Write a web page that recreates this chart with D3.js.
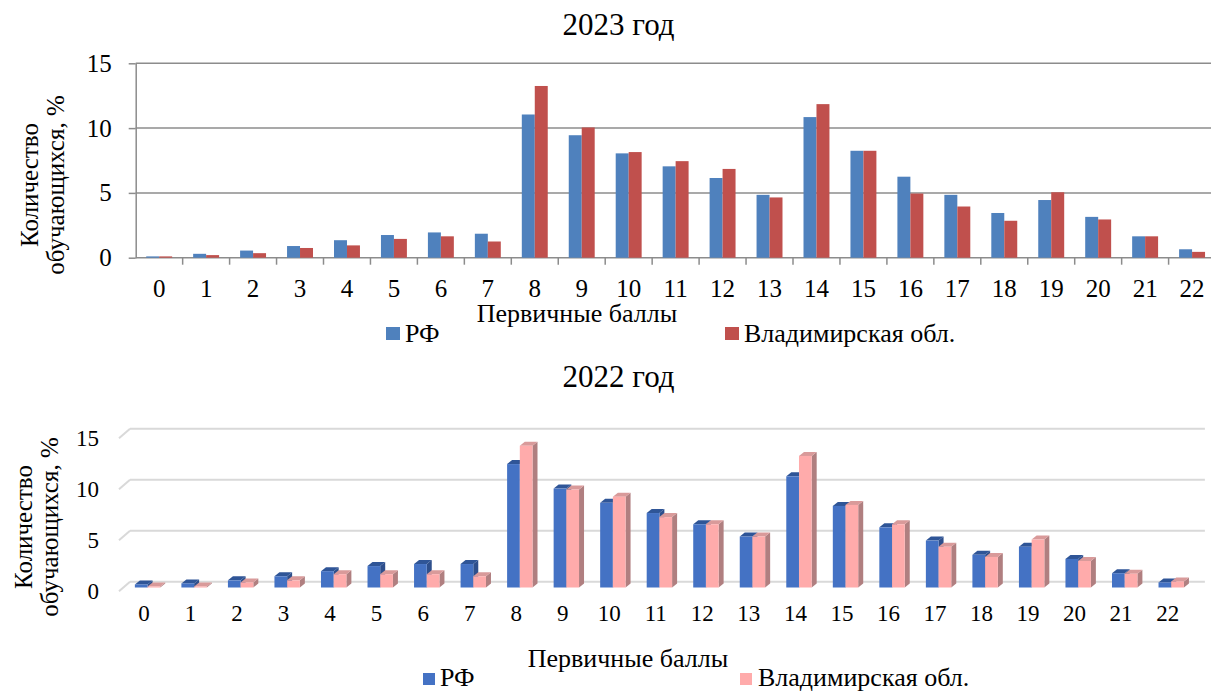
<!DOCTYPE html>
<html>
<head>
<meta charset="utf-8">
<script src="https://cdn.jsdelivr.net/npm/d3@7"></script>
<style>
	body { margin: 0; background: #fff; }
	text { font-family: "Liberation Serif", "Times New Roman", serif; fill: #000; }
</style>
</head>
<body>
<script>

// DATA

var scores = ["0", "1", "2", "3", "4", "5", "6", "7", "8", "9", "10", "11",
	"12", "13", "14", "15", "16", "17", "18", "19", "20", "21", "22"];
var series_names = ["РФ", "Владимирская обл."];
var y_ticks = [0, 5, 10, 15];

// 2023, % of students per primary score
var rf_2023 = [0.1, 0.3, 0.55, 0.9, 1.35, 1.75, 1.95, 1.85, 11.05, 9.45, 8.05, 7.05,
	6.15, 4.85, 10.85, 8.25, 6.25, 4.85, 3.45, 4.45, 3.15, 1.65, 0.65];
var vlad_2023 = [0.1, 0.2, 0.35, 0.75, 0.95, 1.45, 1.65, 1.25, 13.25, 10.05, 8.15, 7.45,
	6.85, 4.65, 11.85, 8.25, 4.95, 3.95, 2.85, 5.05, 2.95, 1.65, 0.45];

// 2022
var rf_2022 = [0.3, 0.4, 0.7, 1.1, 1.6, 2.1, 2.3, 2.3, 12.1, 9.7, 8.3, 7.3,
	6.2, 5.0, 10.9, 8.0, 5.9, 4.6, 3.2, 4.0, 2.8, 1.4, 0.5];
var vlad_2022 = [0.1, 0.1, 0.5, 0.7, 1.3, 1.3, 1.3, 1.1, 13.9, 9.6, 8.9, 6.9,
	6.2, 5.0, 12.9, 8.1, 6.2, 4.0, 3.0, 4.7, 2.6, 1.35, 0.6];


function drawD3(){

	var w = 1211;
	var h = 691;

	var svg = d3.select("body")
		.append("svg")
		.attr("width", w)
		.attr("height", h);

	function rowsFor(a, b){
		return scores.map(function(s, i){
			return {score: s, values: [{name: series_names[0], v: a[i]}, {name: series_names[1], v: b[i]}]};
		});
	}

	function yTitle(x, y){
		var g = svg.append("g").attr("transform", "translate(" + x + "," + y + ") rotate(-90)");
		g.append("text").attr("text-anchor", "middle").attr("font-size", "25px").text("Количество");
		g.append("text").attr("text-anchor", "middle").attr("font-size", "25px").attr("y", 26).text("обучающихся, %");
	}


	// ---------- TOP CHART (2023, flat bars) ----------

	var top_colors = ["#4f81bd", "#c0504d"];
	var left = 135.7, cat_w = 46.95;

	var x0 = d3.scaleBand().domain(scores).range([left, left + cat_w * scores.length]);
	var x1 = d3.scaleBand().domain(series_names).range([0, x0.bandwidth()]).paddingOuter(0.81);
	var y = d3.scaleLinear().domain([0, 15]).range([257.7, 63.3]);

	// grid
	svg.append("g").selectAll("line").data(y_ticks).enter().append("line")
		.attr("x1", left).attr("x2", w)
		.attr("y1", function(d){ return y(d); })
		.attr("y2", function(d){ return y(d); })
		.attr("stroke", "#8c8c8c").attr("stroke-width", 1.5);

	// bars
	var groups = svg.append("g").selectAll("g").data(rowsFor(rf_2023, vlad_2023)).enter().append("g")
		.attr("transform", function(d){ return "translate(" + x0(d.score) + ",0)"; });
	groups.selectAll("rect").data(function(d){ return d.values; }).enter().append("rect")
		.attr("x", function(d){ return x1(d.name); })
		.attr("width", x1.bandwidth())
		.attr("y", function(d){ return y(d.v); })
		.attr("height", function(d){ return y(0) - y(d.v); })
		.attr("fill", function(d, i){ return top_colors[i]; });

	// y axis
	var y_axis = svg.append("g").attr("transform", "translate(" + left + ",0)")
		.call(d3.axisLeft(y).tickValues(y_ticks).tickSize(7).tickPadding(17).tickSizeOuter(0));
	y_axis.select(".domain").attr("stroke", "#8c8c8c").attr("stroke-width", 1.5);
	y_axis.selectAll(".tick line").attr("stroke", "#8c8c8c").attr("stroke-width", 1.5);
	y_axis.selectAll("text").attr("font-size", "25px").attr("font-family", "Liberation Serif").attr("fill", "#000");

	// x axis: labels in band centres, ticks on band borders
	var x_axis = svg.append("g").attr("transform", "translate(0," + y(0) + ")")
		.call(d3.axisBottom(x0).tickSize(0).tickPadding(22));
	x_axis.select(".domain").remove();
	x_axis.selectAll("text").attr("font-size", "25px").attr("font-family", "Liberation Serif").attr("fill", "#000");
	svg.append("g").selectAll("line").data(scores).enter().append("line")
		.attr("x1", function(d){ return x0(d) + cat_w; })
		.attr("x2", function(d){ return x0(d) + cat_w; })
		.attr("y1", y(0)).attr("y2", y(0) + 7)
		.attr("stroke", "#8c8c8c").attr("stroke-width", 1.5);

	svg.append("text").attr("x", 618.5).attr("y", 35).attr("text-anchor", "middle")
		.attr("font-size", "31px").text("2023 год");
	svg.append("text").attr("x", 476.7).attr("y", 322).attr("font-size", "26px").text("Первичные баллы");
	yTitle(38, 185);

	// legend
	var top_legend = [{x: 386, tx: 405}, {x: 725, tx: 744}];
	top_legend.forEach(function(l, i){
		svg.append("rect").attr("x", l.x).attr("y", 327).attr("width", 14).attr("height", 13).attr("fill", top_colors[i]);
		svg.append("text").attr("x", l.tx).attr("y", 342).attr("font-size", "26px").text(series_names[i]);
	});


	// ---------- BOTTOM CHART (2022, 3-D bars) ----------

	var front = ["#4472c4", "#ffabab"];
	var roof = ["#2f5597", "#d99a9a"];
	var side = ["#2e4f8c", "#b07f80"];

	var bx = d3.scaleBand().domain(scores).range([120.7, 120.7 + 46.53 * scores.length]);
	var by = d3.scaleLinear().domain([0, 15]).range([581.7, 428.7]);   // back wall
	var floor_dx = 11, floor_dy = 9.5;
	var base = 587.5;           // front edge of the bars
	var bar_w = 12.7, dx = 5, dy = -4;

	// grid on back wall + floor edge
	var grid = svg.append("g").selectAll("g").data(y_ticks).enter().append("g");
	grid.append("line")
		.attr("x1", 130).attr("x2", bx.range()[1] + 14)
		.attr("y1", function(d){ return by(d); }).attr("y2", function(d){ return by(d); })
		.attr("stroke", "#d9d9d9").attr("stroke-width", 2);
	grid.append("line")
		.attr("x1", 130 - floor_dx).attr("x2", 130)
		.attr("y1", function(d){ return by(d) + floor_dy; }).attr("y2", function(d){ return by(d); })
		.attr("stroke", "#d9d9d9").attr("stroke-width", 2);

	var bgroups = svg.append("g").selectAll("g").data(rowsFor(rf_2022, vlad_2022)).enter().append("g")
		.attr("transform", function(d){ return "translate(" + (bx(d.score) + bx.bandwidth() / 2 + 3.6 - bar_w) + ",0)"; });

	var bars = bgroups.selectAll("g").data(function(d){ return d.values; }).enter().append("g");
	bars.each(function(d, i){
		var g = d3.select(this);
		var x = i * bar_w;
		var top = base - (by(0) - by(d.v));
		g.append("path")
			.attr("d", "M" + (x + bar_w) + "," + base + "L" + (x + bar_w + dx) + "," + (base + dy) +
				"L" + (x + bar_w + dx) + "," + (top + dy) + "L" + (x + bar_w) + "," + top + "Z")
			.attr("fill", side[i]);
		g.append("path")
			.attr("d", "M" + x + "," + top + "L" + (x + dx) + "," + (top + dy) +
				"L" + (x + bar_w + dx) + "," + (top + dy) + "L" + (x + bar_w) + "," + top + "Z")
			.attr("fill", roof[i]);
		g.append("rect").attr("x", x).attr("y", top).attr("width", bar_w).attr("height", base - top)
			.attr("fill", front[i]);
	});

	var by_axis = svg.append("g").attr("transform", "translate(119," + floor_dy + ")")
		.call(d3.axisLeft(by).tickValues(y_ticks).tickSize(0).tickPadding(20));
	by_axis.select(".domain").remove();
	by_axis.selectAll("text").attr("font-size", "23px").attr("font-family", "Liberation Serif").attr("fill", "#000");

	var bx_axis = svg.append("g").attr("transform", "translate(0,590)")
		.call(d3.axisBottom(bx).tickSize(0).tickPadding(15));
	bx_axis.select(".domain").remove();
	bx_axis.selectAll("text").attr("font-size", "23px").attr("font-family", "Liberation Serif").attr("fill", "#000");

	svg.append("text").attr("x", 618.5).attr("y", 387).attr("text-anchor", "middle")
		.attr("font-size", "31px").text("2022 год");
	svg.append("text").attr("x", 527.7).attr("y", 666.7).attr("font-size", "26px").text("Первичные баллы");
	yTitle(32, 527);

	var bottom_legend = [{x: 423, tx: 440}, {x: 740, tx: 758}];
	bottom_legend.forEach(function(l, i){
		svg.append("rect").attr("x", l.x).attr("y", 673).attr("width", 12).attr("height", 12).attr("fill", front[i]);
		svg.append("text").attr("x", l.tx).attr("y", 686).attr("font-size", "26px").text(series_names[i]);
	});
}

drawD3();

</script>
</body>
</html>
